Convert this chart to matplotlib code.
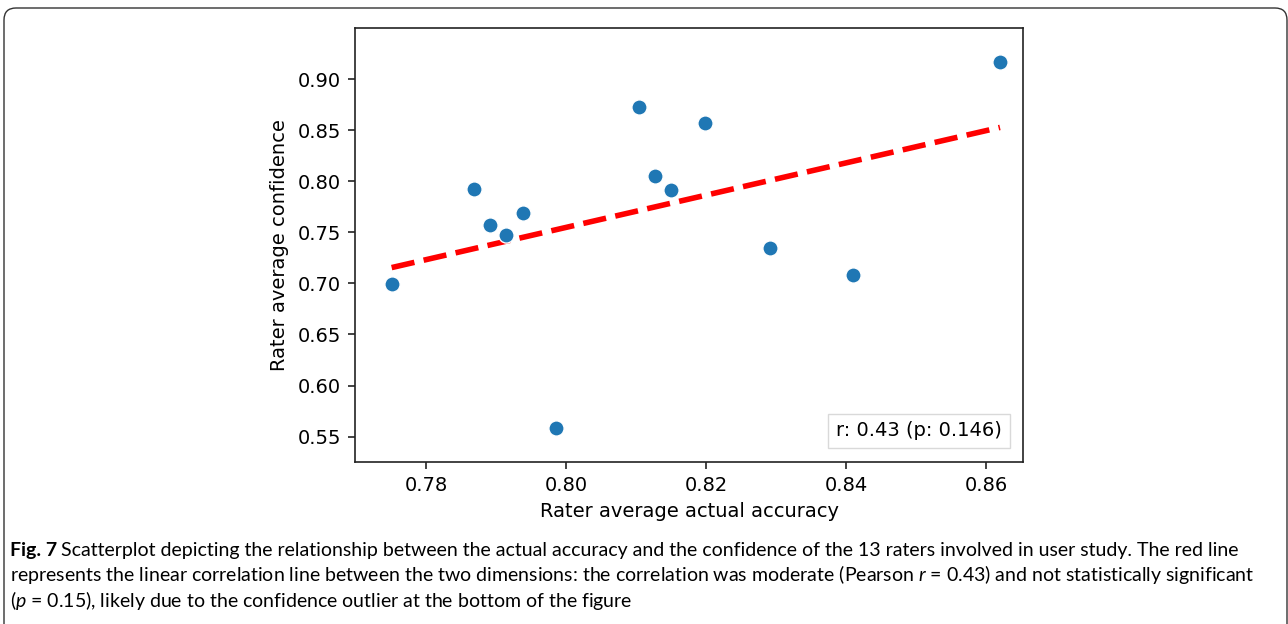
import numpy as np
import matplotlib
matplotlib.use("Agg")
import matplotlib.pyplot as plt
from matplotlib.lines import Line2D
from matplotlib.patches import FancyBboxPatch
from matplotlib import font_manager

# per-rater averages (13 raters)
accuracy = [0.7751, 0.7868, 0.7892, 0.7915, 0.7939, 0.7986, 0.8104,
            0.8127, 0.8150, 0.8198, 0.8291, 0.8410, 0.8620]
confidence = [0.6997, 0.7927, 0.7568, 0.7474, 0.7692, 0.5585, 0.8723,
              0.8051, 0.7911, 0.8572, 0.7346, 0.7082, 0.9166]
stats_label = "r: 0.43 (p: 0.146)"

x_ticks = [0.78, 0.80, 0.82, 0.84, 0.86]
y_ticks = [0.55, 0.60, 0.65, 0.70, 0.75, 0.80, 0.85, 0.90]

caption_lines = [
    ("Scatterplot depicting the relationship between the actual accuracy and the "
     "confidence of the 13 raters involved in user study. The red line"),
    ("represents the linear correlation line between the two dimensions: the correlation "
     "was moderate (Pearson $r$ = 0.43) and not statistically significant"),
    "($p$ = 0.15), likely due to the confidence outlier at the bottom of the figure",
]

available = {f.name for f in font_manager.fontManager.ttflist}
cap_font = next(f for f in ["Liberation Sans Narrow", "Lato", "Open Sans", "DejaVu Sans"]
                if f in available)

plt.rcParams["font.family"] = ["DejaVu Sans"]
plt.rcParams["mathtext.fontset"] = "custom"
plt.rcParams["mathtext.it"] = f"{cap_font}:italic"
plt.rcParams["mathtext.rm"] = cap_font

W, H = 1288, 624
fig = plt.figure(figsize=(W / 100, H / 100), dpi=100)
ax = fig.add_axes([0.2756, 0.2601, 0.5189, 0.6945])

ax.scatter(accuracy, confidence, s=120, color="#1f77b4",
           edgecolor="white", linewidth=1.0, zorder=3)

# least-squares line across the observed accuracy range
slope, intercept = np.polyfit(accuracy, confidence, 1)
xs = np.array([min(accuracy), max(accuracy)])
ax.plot(xs, slope * xs + intercept, color="red", lw=4,
        linestyle=(0, (4.2, 1.7)), zorder=2)

ax.set_xlim(0.76986, 0.86533)
ax.set_ylim(0.5255, 0.9496)
ax.set_xticks(x_ticks)
ax.set_yticks(y_ticks)
ax.set_xticklabels([f"{v:.2f}" for v in x_ticks])
ax.set_yticklabels([f"{v:.2f}" for v in y_ticks])
ax.tick_params(labelsize=14, length=5, width=1.2, pad=5, color="#222222")
for sp in ax.spines.values():
    sp.set_linewidth(1.2)
    sp.set_color("#222222")
ax.set_xlabel("Rater average actual accuracy", fontsize=14, labelpad=5)
ax.set_ylabel("Rater average confidence", fontsize=14, labelpad=6)

ax.legend(handles=[Line2D([], [], linestyle="none")], labels=[stats_label],
          loc="lower right", handlelength=0, handletextpad=0, fontsize=14,
          fancybox=False, edgecolor="#d0d0d0", borderaxespad=0.7)

# outer figure frame, open at the bottom
frame = FancyBboxPatch((0.04, -0.5), 12.83, 6.66,
                       boxstyle="round,pad=0,rounding_size=0.12",
                       transform=fig.dpi_scale_trans, fill=False,
                       edgecolor="#333333", linewidth=1.0)
fig.patches.append(frame)


def draw_caption(size):
    x0 = 10
    baselines = [556, 581.5, 607]
    texts = []
    head = fig.text(x0 / W, 1 - baselines[0] / H, "Fig. 7", fontsize=size,
                    fontweight="bold", family=cap_font, va="baseline")
    fig.canvas.draw()
    hx = head.get_window_extent().x1 + 4
    texts.append(head)
    texts.append(fig.text(hx / W, 1 - baselines[0] / H, caption_lines[0],
                          fontsize=size, family=cap_font, va="baseline"))
    for line, yb in zip(caption_lines[1:], baselines[1:]):
        texts.append(fig.text(x0 / W, 1 - yb / H, line, fontsize=size,
                              family=cap_font, va="baseline"))
    fig.canvas.draw()
    return texts


# size the caption so the first line ends near the right margin
texts = draw_caption(15)
line_end = texts[1].get_window_extent().x1
for t in texts:
    t.remove()
draw_caption(15 * (1240 - 10) / (line_end - 10))

fig.savefig("out.png", dpi=100)
